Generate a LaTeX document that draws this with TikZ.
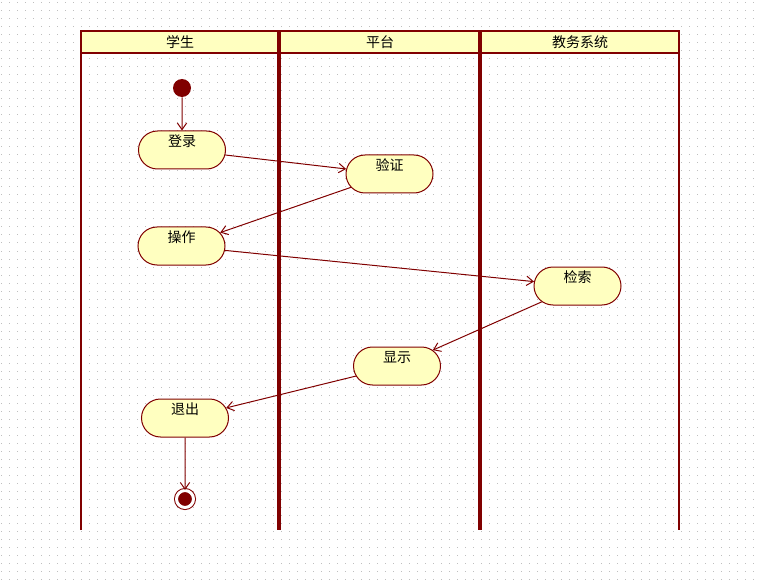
\documentclass[tikz,border=0pt]{standalone}
\usepackage{fontspec}
\newfontfamily\cjk{Noto Sans CJK SC}
\usetikzlibrary{shapes.misc,arrows.meta}
\definecolor{umlred}{HTML}{800000}
\definecolor{umlfill}{HTML}{FFFFC0}
\newcommand{\drawdots}{
	\foreach \r in {3,11,...,579} {
		\draw[gray!50,line width=0.75pt,dash pattern=on 0.75pt off 5.25pt] (1,\r) -- (757,\r);
	}
}
\newcommand{\drawlanes}{
	\fill[umlfill] (81,31) rectangle (679,53);
	\draw[umlred,line width=1.5pt] (81,530) -- (81,31) -- (679,31) -- (679,530);
	\draw[umlred,line width=1.5pt] (81,53) -- (679,53);
	\foreach \x in {279,480} {
		\draw[umlred,line width=3pt] (\x,31) -- (\x,530);
	}
}
\begin{document}
\begin{tikzpicture}[x=0.75pt,y=-0.75pt,
	every node/.style={font=\cjk\fontsize{10.5}{12}\selectfont},
	activity/.style={rounded rectangle,draw=umlred,fill=umlfill,line width=0.75pt,
		minimum width=65.25pt,minimum height=28.5pt,inner sep=0pt,
		text height=8pt,text depth=12.8pt},
	flow/.style={draw=umlred,line width=0.75pt,-{Straight Barb[length=5pt,width=7pt]}}]
	\useasboundingbox (0,0) rectangle (757,581);
	\drawdots
	\drawlanes
	\node (student) at (180,42) {学生};
	\node (platform) at (380,42) {平台};
	\node (system) at (580,42) {教务系统};
	
	\node[circle,fill=umlred,minimum size=13.5pt,inner sep=0pt] (init) at (182,88) {};
	\node[activity] (login) at (182,150) {登录};
	\node[activity] (verify) at (389.5,174) {验证};
	\node[activity] (operate) at (181.5,246) {操作};
	\node[activity] (search) at (577.5,286) {检索};
	\node[activity] (show) at (397,366) {显示};
	\node[activity] (quit) at (185,418) {退出};
	\node[circle,draw=umlred,fill=umlred,line width=0.75pt,double=white,double distance=2.25pt,
		minimum size=12.75pt,inner sep=0pt] (final) at (185,499) {};
	
	\draw[flow] (init) -- (login);
	\draw[flow] (login) -- (verify);
	\draw[flow] (verify) -- (operate);
	\draw[flow] (operate) -- (search);
	\draw[flow] (search) -- (show);
	\draw[flow] (show) -- (quit);
	\draw[flow] (quit) -- (final);
\end{tikzpicture}
\end{document}
